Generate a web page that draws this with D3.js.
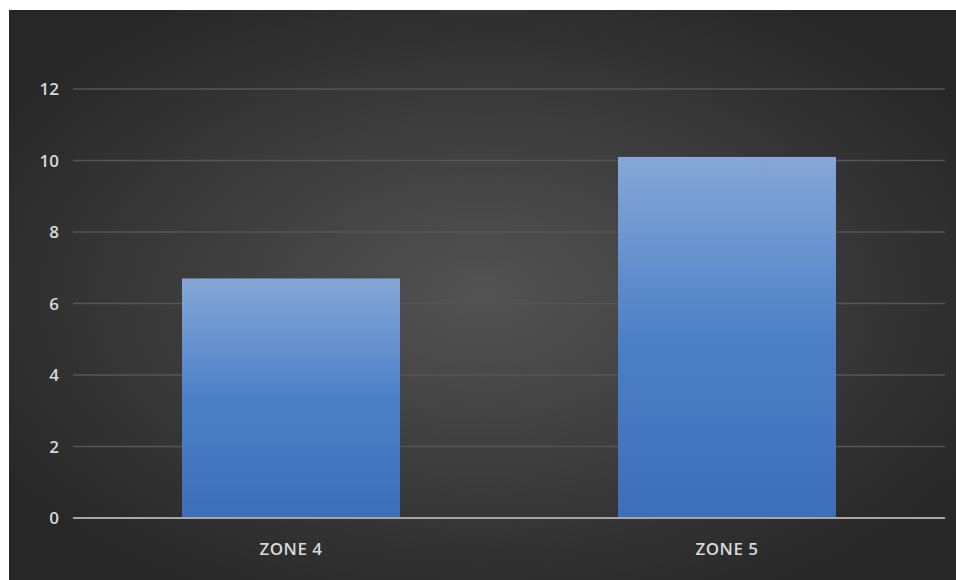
<!DOCTYPE html>
<html><head><meta charset="utf-8">
<script src="https://cdn.jsdelivr.net/npm/d3@7"></script>
<style>html,body{margin:0;padding:0;background:#fff;}svg{display:block;}</style>
</head><body>
<svg id="c" width="956" height="580"></svg>
<script>
const categories = ["ZONE 4", "ZONE 5"];
const values = [6.7, 10.1];
const yTicks = [0, 2, 4, 6, 8, 10, 12];

const svg = d3.select("#c");
const defs = svg.append("defs");
const bg = defs.append("radialGradient").attr("id","bg").attr("cx","50%").attr("cy","50%").attr("r","60%");
bg.append("stop").attr("offset","0%").attr("stop-color","#535353");
bg.append("stop").attr("offset","100%").attr("stop-color","#272727");
const bar = defs.append("linearGradient").attr("id","bar").attr("x1",0).attr("y1",0).attr("x2",0).attr("y2",1);
bar.append("stop").attr("offset","0%").attr("stop-color","#86a7d7");
bar.append("stop").attr("offset","50%").attr("stop-color","#4c80c6");
bar.append("stop").attr("offset","100%").attr("stop-color","#3c6fb8");

svg.append("rect").attr("x",9).attr("y",10).attr("width",947).attr("height",570).attr("fill","url(#bg)");

const x = d3.scaleBand().domain(categories).range([73, 945]).paddingInner(0.5).paddingOuter(0.25);
const y = d3.scaleLinear().domain([0, 12]).range([518, 89]);

const grid = svg.append("g");
grid.selectAll("line").data(yTicks.filter(d=>d>0)).join("line")
  .attr("x1",73).attr("x2",945).attr("y1",d=>y(d)).attr("y2",d=>y(d))
  .attr("stroke","#565656").attr("stroke-width",1.5);

svg.append("g").selectAll("rect").data(values).join("rect")
  .attr("x",(d,i)=>x(categories[i])).attr("width",x.bandwidth())
  .attr("y",d=>y(d)).attr("height",d=>y(0)-y(d)).attr("fill","url(#bar)");

svg.append("line").attr("x1",73).attr("x2",945).attr("y1",y(0)).attr("y2",y(0))
  .attr("stroke","#a6a6a6").attr("stroke-width",2);

const yAxis = d3.axisLeft(y).tickValues(yTicks).tickSize(0).tickPadding(0);
const ya = svg.append("g").attr("transform","translate(59,0)").call(yAxis);
ya.select(".domain").remove();
ya.selectAll("text").attr("fill","#d9d9d9").attr("font-family","'Open Sans', sans-serif")
  .attr("font-size","17px").attr("font-weight","600").attr("dy","0.35em");

const xAxis = d3.axisBottom(x).tickSize(0).tickPadding(0);
const xa = svg.append("g").attr("transform","translate(0,549)").call(xAxis);
xa.select(".domain").remove();
xa.selectAll("text").attr("fill","#d9d9d9").attr("font-family","'Open Sans', sans-serif")
  .attr("font-size","17px").attr("font-weight","600").attr("dy","0.35em").attr("letter-spacing","0.5px");
</script>
</body></html>
